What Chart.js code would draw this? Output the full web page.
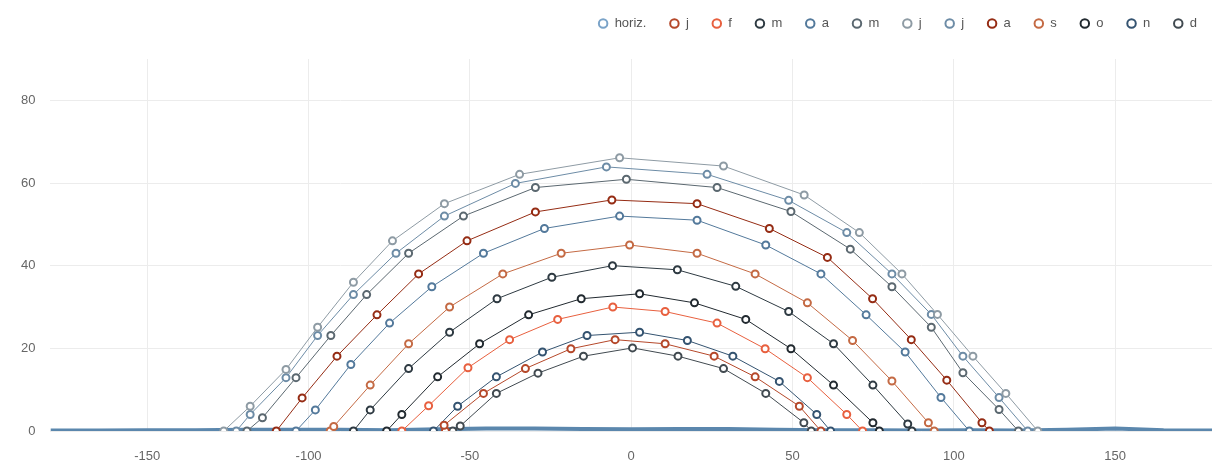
<!DOCTYPE html>
<html>
<head>
<meta charset="utf-8">
<script src="https://cdn.jsdelivr.net/npm/chart.js@4.4.1/dist/chart.umd.min.js"></script>
<style>
  html, body { margin: 0; padding: 0; background: #fff; }
  #wrap { width: 1221px; height: 465px; }
</style>
</head>
<body>
<div id="wrap"><canvas id="sunpath" width="1221" height="465"></canvas></div>
<script>
// legend labels
const labels = ['horiz.', 'j', 'f', 'm', 'a', 'm', 'j', 'j', 'a', 's', 'o', 'n', 'd'];

// horizon profile (azimuth / elevation)
const horizAz = [-180, -165, -150, -135, -120, -105, -90, -75, -60, -45, -30, -15, 0, 15, 30, 45, 60, 75, 90, 105, 120, 135, 150, 165, 180];
const horizAlt = [0.1, 0.1, 0.2, 0.2, 0.3, 0.3, 0.3, 0.2, 0.4, 0.6, 0.6, 0.5, 0.4, 0.5, 0.5, 0.3, 0.2, 0.2, 0.1, 0.2, 0.1, 0.3, 0.6, 0.2, 0.1];

// sun positions per month (azimuth, altitude)
const janAz = [-57.6, -58.0, -45.8, -32.8, -18.7, -5.0, 10.5, 25.7, 38.4, 52.1, 58.8];
const janAlt = [0, 1.4, 9.1, 15.1, 19.9, 22.1, 21.1, 18.1, 13.1, 6.0, 0];
const febAz = [-71.1, -62.8, -50.6, -37.7, -22.8, -5.7, 10.5, 26.6, 41.5, 54.6, 66.8, 71.7];
const febAlt = [0, 6.1, 15.3, 22.1, 27.0, 30.0, 28.9, 26.1, 19.9, 12.9, 4.0, 0];
const marAz = [-86.1, -80.9, -69.0, -56.3, -41.6, -24.6, -5.8, 14.3, 32.4, 48.8, 62.7, 74.9, 85.7, 87.0];
const marAlt = [0, 5.1, 15.1, 23.9, 32.0, 37.2, 40.0, 39.0, 35.0, 28.9, 21.1, 11.1, 1.7, 0];
const aprAz = [-103.9, -97.9, -86.9, -74.9, -61.8, -45.8, -26.9, -3.6, 20.4, 41.7, 58.8, 72.8, 84.9, 96.0, 104.8];
const aprAlt = [0, 5.1, 16.1, 26.1, 34.9, 43.0, 49.0, 52.0, 51.0, 45.0, 38.0, 28.1, 19.1, 8.1, 0];
const mayAz = [-119.1, -114.3, -103.9, -93.1, -82.0, -69.0, -52.0, -29.7, -1.5, 26.6, 49.5, 67.9, 80.8, 93.0, 102.8, 114.0, 120.0];
const mayAlt = [0, 3.2, 12.9, 23.1, 33.0, 43.0, 52.0, 58.9, 60.9, 58.9, 53.1, 44.0, 34.9, 25.1, 14.1, 5.2, 0];
const junAz = [-126.3, -118.1, -107.0, -97.2, -86.1, -74.0, -57.9, -34.6, -3.6, 28.6, 53.6, 70.7, 83.9, 94.9, 105.9, 116.1, 126.0];
const junAlt = [0, 6.0, 14.9, 25.1, 36.0, 46.0, 55.0, 62.1, 66.1, 64.1, 57.1, 48.0, 38.0, 28.2, 18.1, 9.1, 0];
const julAz = [-122.4, -118.1, -107.0, -97.2, -86.1, -72.9, -57.9, -35.9, -7.7, 23.5, 48.8, 66.8, 80.8, 93.0, 102.8, 114.0, 122.9];
const julAlt = [0, 4.0, 12.9, 23.1, 33.0, 43.0, 52.0, 59.9, 63.9, 62.1, 55.8, 48.0, 38.0, 28.2, 18.1, 8.1, 0];
const augAz = [-110.0, -102.0, -91.2, -78.8, -65.9, -50.9, -29.7, -6.0, 20.4, 42.8, 60.8, 74.8, 86.8, 97.8, 108.7, 111.0];
const augAlt = [0, 8.0, 18.1, 28.1, 38.0, 46.0, 53.0, 55.9, 55.0, 49.0, 42.0, 32.0, 22.1, 12.3, 2.0, 0];
const sepAz = [-93.3, -92.2, -80.9, -69.0, -56.3, -39.8, -21.7, -0.5, 20.4, 38.4, 54.6, 68.6, 80.8, 92.1, 93.9];
const sepAlt = [0, 1.1, 11.1, 21.1, 30.0, 38.0, 43.0, 45.0, 43.0, 38.0, 31.0, 21.9, 12.1, 2.0, 0];
const octAz = [-75.8, -71.1, -60.0, -47.0, -31.8, -15.5, 2.6, 19.6, 35.5, 49.5, 62.7, 74.9, 76.9];
const octAlt = [0, 4.0, 13.1, 21.1, 28.1, 32.0, 33.2, 31.0, 27.0, 19.9, 11.1, 2.0, 0];
const novAz = [-61.3, -53.8, -41.8, -27.5, -13.7, 2.6, 17.4, 31.5, 45.9, 57.5, 61.8];
const novAlt = [0, 6.0, 13.1, 19.1, 23.1, 23.9, 21.9, 18.1, 12.0, 4.0, 0];
const decAz = [-55.3, -53.0, -41.8, -28.9, -14.8, 0.4, 14.5, 28.6, 41.7, 53.5, 55.8];
const decAlt = [0, 1.2, 9.1, 14.0, 18.1, 20.1, 18.1, 15.1, 9.1, 2.0, 0];

const monthAz = [janAz, febAz, marAz, aprAz, mayAz, junAz, julAz, augAz, sepAz, octAz, novAz, decAz];
const monthAlt = [janAlt, febAlt, marAlt, aprAlt, mayAlt, junAlt, julAlt, augAlt, sepAlt, octAlt, novAlt, decAlt];
const monthColors = ['#b5482a', '#e8603f', '#2e3a42', '#53799b', '#5b6870', '#8e9ba4',
                     '#6d8ca6', '#952c14', '#c46a44', '#222a30', '#345370', '#414a50'];

function toPoints(xs, ys) {
    return xs.map((x, i) => ({ x: x, y: ys[i] }));
}

const datasets = [{
    label: labels[0],
    data: toPoints(horizAz, horizAlt),
    showLine: true,
    borderColor: '#5b87ad',
    borderWidth: 4,
    pointRadius: 0,
    pointBorderColor: '#7aa3c8',
    pointBackgroundColor: '#fff',
    pointBorderWidth: 2,
    order: 1
}];

monthAz.forEach((az, m) => {
    datasets.push({
        label: labels[m + 1],
        data: toPoints(az, monthAlt[m]),
        showLine: true,
        borderColor: monthColors[m],
        borderWidth: 1,
        pointRadius: 3.5,
        pointBorderWidth: 2,
        pointBorderColor: monthColors[m],
        pointBackgroundColor: '#fff',
        order: 0
    });
});

// extra gap under the legend
const legendGap = {
    id: 'legendGap',
    beforeInit(chart) {
        const fit = chart.legend.fit;
        chart.legend.fit = function () {
            fit.bind(chart.legend)();
            this.height += 19;
        };
    }
};

const font = "'Liberation Sans', Arial, sans-serif";

new Chart(document.getElementById('sunpath'), {
    type: 'scatter',
    data: { datasets: datasets },
    options: {
        responsive: false,
        animation: false,
        layout: { padding: { left: 6, right: 1, top: -6, bottom: 2 } },
        plugins: {
            tooltip: { enabled: false },
            legend: {
                position: 'top',
                align: 'end',
                labels: {
                    usePointStyle: true,
                    boxWidth: 10,
                    boxHeight: 6,
                    padding: 23,
                    color: '#555',
                    font: { family: font, size: 13 },
                    sort: (a, b) => a.datasetIndex - b.datasetIndex
                }
            }
        },
        scales: {
            x: {
                type: 'linear',
                min: -180,
                max: 180,
                border: { display: false },
                grid: { color: '#ececec', drawTicks: false },
                ticks: { stepSize: 50, includeBounds: false, padding: 18, color: '#666', font: { family: font, size: 13 } },
                afterFit: (scale) => { scale.height = 32; }
            },
            y: {
                min: 0,
                max: 90,
                border: { display: false },
                grid: { color: '#ececec', drawTicks: false },
                ticks: { stepSize: 20, includeBounds: false, padding: 15, color: '#666', font: { family: font, size: 13 } }
            },
            yRight: {
                position: 'right',
                display: true,
                border: { display: false },
                grid: { display: false, drawTicks: false },
                ticks: { display: false },
                afterFit: (scale) => { scale.width = 8; }
            }
        }
    },
    plugins: [legendGap]
});
</script>
</body>
</html>
